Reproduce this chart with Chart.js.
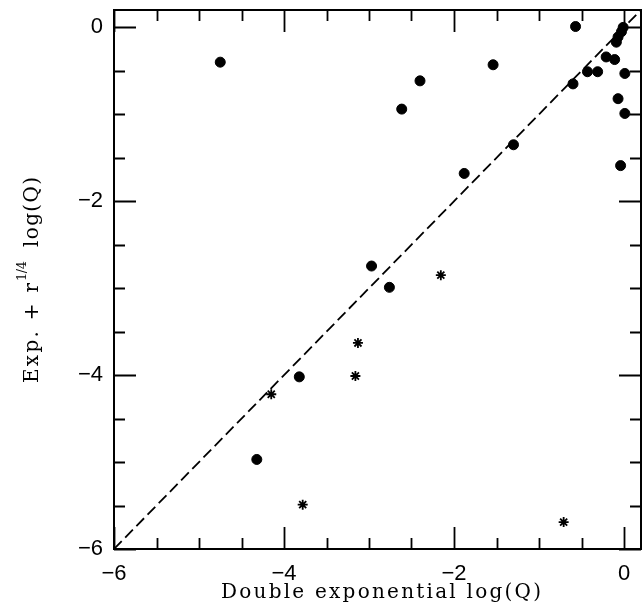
<!DOCTYPE html>
<html><head><meta charset="utf-8">
<script src="https://cdn.jsdelivr.net/npm/chart.js@4.4.1/dist/chart.umd.min.js"></script>
<style>html,body{margin:0;padding:0;background:#fff;}canvas{display:block;}</style>
</head><body>
<canvas id="c" width="642" height="605"></canvas>
<script>
// ---- data ----
const circleX = [-4.75, -0.57, -0.01, -0.03, -0.07, -0.09, -0.21, -0.11, -0.43, -0.31, 0.01, -0.60, -0.07, 0.01, -1.54, -2.40, -2.615, -1.30, -1.88, -0.04, -2.97, -2.76, -3.82, -4.32];
const circleY = [-0.40, 0.01, 0.00, -0.05, -0.11, -0.17, -0.34, -0.37, -0.51, -0.51, -0.53, -0.65, -0.82, -0.99, -0.43, -0.615, -0.94, -1.35, -1.68, -1.59, -2.745, -2.99, -4.02, -4.97];
const starX = [-2.155, -3.13, -3.16, -4.15, -3.78, -0.71];
const starY = [-2.85, -3.63, -4.01, -4.22, -5.49, -5.69];
const lineX = [-6, 0.2];
const lineY = [-6, 0.2];
const xTickValues = [-6, -4, -2, 0];
const yTickValues = [-6, -4, -2, 0];
const minorStep = 0.5;
const xTitle = 'Double exponential log(Q)';
const yTitleParts = ['Exp. + r', '1/4', 'log(Q)'];

const toPts = (xs, ys) => xs.map((x, i) => ({x: x, y: ys[i]}));
const fmt = v => (v < 0 ? '\u2212' + Math.abs(v) : String(v));

const TFONT = '"DejaVu Serif", "Liberation Serif", serif';
const noPad = () => ({ left: 0, top: 0, right: 0, bottom: 0 });

function drawSpaced(c, text, x, y, targetW) {
  const chars = Array.from(text);
  const widths = chars.map(ch => c.measureText(ch).width);
  const natural = widths.reduce((s, w) => s + w, 0);
  const extra = chars.length > 1 ? (targetW - natural) / (chars.length - 1) : 0;
  let cx = x;
  chars.forEach((ch, i) => { c.fillText(ch, cx, y); cx += widths[i] + extra; });
}

const framePlugin = {
  id: 'frame',
  beforeDraw(chart) {
    const c = chart.ctx;
    c.save(); c.fillStyle = '#fff'; c.fillRect(0, 0, chart.width, chart.height); c.restore();
  },
  afterDraw(chart) {
    const c = chart.ctx, a = chart.chartArea, sx = chart.scales.x, sy = chart.scales.y;
    c.save();
    c.strokeStyle = '#000';
    c.lineWidth = 2;
    c.strokeRect(a.left, a.top, a.right - a.left, a.bottom - a.top);
    c.lineWidth = 1.8;
    const isMajor = (v, majors) => majors.some(m => Math.abs(m - v) < 1e-6);
    for (let v = sx.min; v <= sx.max + 1e-9; v += minorStep) {
      const px = Math.round(sx.getPixelForValue(v)) + 0.5;
      const len = isMajor(v, xTickValues) ? 22 : 11;
      c.beginPath();
      c.moveTo(px, a.bottom); c.lineTo(px, a.bottom - len);
      c.moveTo(px, a.top); c.lineTo(px, a.top + len);
      c.stroke();
    }
    for (let v = sy.min; v <= sy.max + 1e-9; v += minorStep) {
      const py = Math.round(sy.getPixelForValue(v)) + 0.5;
      const len = isMajor(v, yTickValues) ? 22 : 11;
      c.beginPath();
      c.moveTo(a.left, py); c.lineTo(a.left + len, py);
      c.moveTo(a.right, py); c.lineTo(a.right - len, py);
      c.stroke();
    }
    c.fillStyle = '#000';
    c.textAlign = 'left';
    c.textBaseline = 'alphabetic';
    // x title
    c.font = '20px ' + TFONT;
    drawSpaced(c, xTitle, 221, 598, 320);
    // y title (rotated, with superscript)
    c.translate(38, 383);
    c.rotate(-Math.PI / 2);
    c.font = '20px ' + TFONT;
    drawSpaced(c, yTitleParts[0], 0, 0, 100);
    c.font = '13px ' + TFONT;
    drawSpaced(c, yTitleParts[1], 102, -12, 20);
    c.font = '20px ' + TFONT;
    drawSpaced(c, yTitleParts[2], 136, 0, 70);
    c.restore();
  }
};

new Chart(document.getElementById('c').getContext('2d'), {
  type: 'scatter',
  data: {
    datasets: [
      { type: 'line', data: toPts(lineX, lineY), borderColor: '#000', borderWidth: 1.8, borderDash: [11, 5],
        pointRadius: 0, fill: false, tension: 0 },
      { data: toPts(circleX, circleY), pointStyle: 'circle', pointRadius: 5, backgroundColor: '#000',
        borderColor: '#000', borderWidth: 1 },
      { data: toPts(starX, starY), pointStyle: 'star', pointRadius: 5, backgroundColor: '#000',
        borderColor: '#000', borderWidth: 1.8 }
    ]
  },
  options: {
    responsive: false, animation: false, devicePixelRatio: 1,
    layout: { autoPadding: false, padding: { top: 10, right: 1, left: 0, bottom: 0 } },
    plugins: { legend: { display: false }, tooltip: { enabled: false } },
    scales: {
      x: {
        type: 'linear', position: 'bottom', min: -6, max: 0.2,
        afterFit: s => { s.height = 56; s.paddingLeft = 0; s.paddingRight = 0; s.getPadding = noPad; },
        afterBuildTicks: s => { s.ticks = xTickValues.map(v => ({ value: v })); },
        grid: { display: false }, border: { display: false },
        ticks: { color: '#000', font: { family: '"Liberation Sans", Arial, sans-serif', size: 22 }, padding: 4,
                 maxRotation: 0, autoSkip: false, callback: fmt }
      },
      y: {
        type: 'linear', position: 'left', min: -6, max: 0.2,
        afterFit: s => { s.width = 114; s.paddingTop = 0; s.paddingBottom = 0; s.getPadding = noPad; },
        afterBuildTicks: s => { s.ticks = yTickValues.map(v => ({ value: v })); },
        grid: { display: false }, border: { display: false },
        ticks: { color: '#000', font: { family: '"Liberation Sans", Arial, sans-serif', size: 22 }, padding: 3,
                 autoSkip: false, callback: fmt }
      }
    }
  },
  plugins: [framePlugin]
});
</script>
</body></html>
